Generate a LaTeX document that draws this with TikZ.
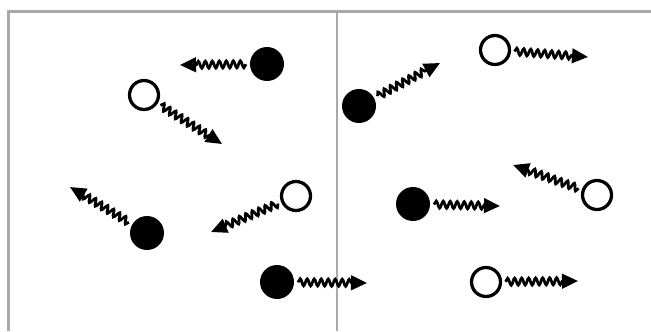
\documentclass[tikz,border=0pt]{standalone}
\usetikzlibrary{arrows.meta,decorations.pathmorphing}
\definecolor{wallgray}{HTML}{A9A9A9}

\begin{document}
\begin{tikzpicture}[
    x=0.02cm,
    y=-0.02cm,
    full/.style={
        circle,
        fill=black,
        minimum size=0.68cm,
        inner sep=0pt,
        outer sep=0.8mm
    },
    hollow/.style={
        circle,
        draw=black,
        line width=0.65mm,
        minimum size=0.58cm,
        inner sep=0pt,
        outer sep=1.0mm
    },
    photon/.style={
        -{Triangle[length=3.2mm,width=2.9mm]},
        line width=0.55mm,
        decorate,
        decoration={snake, amplitude=0.7mm, segment length=1.4mm, post length=3mm}
    },
    wall/.style={
        draw=wallgray,
        line width=0.6mm
    }
]
\useasboundingbox (0,0) rectangle (651,331);

% Box and partition
\draw[wall] (8.5,331) -- (8.5,12) -- (651,12);
\draw[wallgray,line width=0.3mm] (337,13) -- (337,331);

% Particles
\foreach \name/\kind/\x/\y in {p1/full/267/64, p2/hollow/144/95, p3/full/147/233,
        p4/hollow/296/196, p5/full/277/282, p6/full/359/106, p7/hollow/495/50,
        p8/full/413/204, p9/hollow/597/195, p10/hollow/486/282} {
    \node[\kind] (\name) at (\x,\y) {};
}

% Arrow heads of the emitted waves
\foreach \name/\x/\y in {t1/180/65, t2/222/144, t3/70/187, t4/211/232, t5/367/283,
        t6/440/63, t7/588/57, t8/500/206, t9/513/165, t10/578/281} {
    \coordinate (\name) at (\x,\y);
}

% Waves
\foreach \i in {1,...,10} {
    \draw[photon] (p\i) -- (t\i);
}

\end{tikzpicture}
\end{document}
